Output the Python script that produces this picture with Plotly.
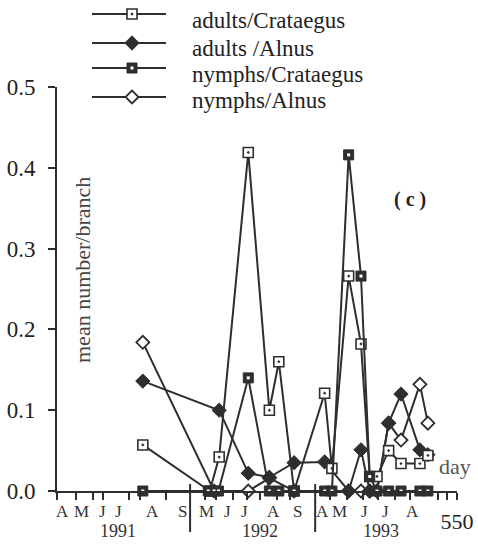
import plotly.graph_objects as go

W, H = 478, 545
INK = "#2e2e2e"
SERIF = "Liberation Serif"

# Sampling days (day 0 = start of the 1991 season) and mean number per branch
ad_crat_day = [118, 210, 223, 263, 292, 305, 326, 368, 378, 401, 418, 430, 440, 456, 473, 499, 510]
ad_crat_val = [0.057, 0.0, 0.042, 0.419, 0.10, 0.16, 0.0, 0.121, 0.028, 0.266, 0.182, 0.018, 0.018,
               0.05, 0.034, 0.034, 0.044]

ad_aln_day = [118, 223, 263, 292, 326, 368, 401, 418, 430, 440, 456, 473, 499, 510]
ad_aln_val = [0.136, 0.10, 0.022, 0.017, 0.035, 0.036, 0.0, 0.051, 0.0, 0.0, 0.084, 0.12, 0.051, 0.045]

ny_crat_day = [118, 208, 216, 222, 263, 292, 305, 326, 368, 378, 401, 418, 430, 440, 456, 473, 499, 510]
ny_crat_val = [0.0, 0.0, 0.0, 0.0, 0.14, 0.0, 0.0, 0.0, 0.0, 0.0, 0.416, 0.266, 0.018, 0.0,
               0.0, 0.0, 0.0, 0.0]

ny_aln_day = [118, 216, 263, 292, 326, 401, 418, 430, 440, 456, 473, 499, 510]
ny_aln_val = [0.184, 0.0, 0.0, 0.016, 0.0, 0.0, 0.0, 0.0, 0.0, 0.084, 0.063, 0.132, 0.084]

# Axis furniture
x_ticks = [0, 26, 49, 63, 99, 114, 150, 203, 219, 242, 261, 279, 302, 320,
           375, 399, 421, 441, 465, 486, 524, 536, 550]
y_ticks = [0.0, 0.1, 0.2, 0.3, 0.4, 0.5]
month_labels = ["A", "M", "J", "J", "A", "S", "M", "J", "J", "A", "S", "A", "M", "J", "J", "A"]
month_pos = [8, 34, 62, 84, 131, 172, 206, 235, 258, 297, 331, 365, 388, 423, 451, 489]
year_labels = ["1991", "1992", "1993"]
year_pos = [84, 279, 446]
year_breaks = [183, 355]

series = [
    dict(name="adults/Crataegus", x=ad_crat_day, y=ad_crat_val,
         marker=dict(symbol="square-dot", size=10, color="white", line=dict(color=INK, width=1.6))),
    dict(name="adults /Alnus", x=ad_aln_day, y=ad_aln_val,
         marker=dict(symbol="diamond", size=11, color=INK, line=dict(color=INK, width=1))),
    dict(name="nymphs/Crataegus", x=ny_crat_day, y=ny_crat_val,
         marker=dict(symbol="square", size=10, color=INK, line=dict(color=INK, width=1))),
    dict(name="nymphs/Alnus", x=ny_aln_day, y=ny_aln_val,
         marker=dict(symbol="diamond", size=10, color="white", line=dict(color=INK, width=1.8))),
]
draw_order = [3, 1, 0, 2]

fig = go.Figure()
for i in draw_order:
    s = series[i]
    fig.add_trace(go.Scatter(x=s["x"], y=s["y"], mode="lines+markers", name=s["name"],
                             line=dict(color=INK, width=2), marker=s["marker"],
                             cliponaxis=False, showlegend=False))
    if s["name"] == "nymphs/Crataegus":
        # white centre of the solid squares
        fig.add_trace(go.Scatter(x=s["x"], y=s["y"], mode="markers", hoverinfo="skip",
                                 marker=dict(symbol="square", size=3, color="white"),
                                 cliponaxis=False, showlegend=False))

# Key drawn in pixel space on an overlay axis
key_y = [14, 43, 68, 97]
key_text_y = [21, 48, 74, 100]
for s, ky in zip(series, key_y):
    fig.add_trace(go.Scatter(x=[92, 166], y=[ky, ky], mode="lines", xaxis="x2", yaxis="y2",
                             line=dict(color=INK, width=2), hoverinfo="skip", showlegend=False))
    fig.add_trace(go.Scatter(x=[132], y=[ky], mode="markers", xaxis="x2", yaxis="y2",
                             marker=s["marker"], hoverinfo="skip", showlegend=False))
    if s["name"] == "nymphs/Crataegus":
        fig.add_trace(go.Scatter(x=[132], y=[ky], mode="markers", xaxis="x2", yaxis="y2",
                                 marker=dict(symbol="square", size=3, color="white"),
                                 hoverinfo="skip", showlegend=False))

annotations = []
for s, ty in zip(series, key_text_y):
    annotations.append(dict(x=190 / W, y=1 - ty / H, xref="paper", yref="paper", text=s["name"],
                            xanchor="left", yanchor="middle", showarrow=False,
                            font=dict(family=SERIF, size=23, color="#222")))
for lab, pos in zip(month_labels, month_pos):
    annotations.append(dict(x=pos, y=1 - 511 / H, xref="x", yref="paper", text=lab,
                            xanchor="center", yanchor="middle", showarrow=False,
                            font=dict(family=SERIF, size=17, color="#333")))
for lab, pos in zip(year_labels, year_pos):
    annotations.append(dict(x=pos, y=1 - 531 / H, xref="x", yref="paper", text=lab,
                            xanchor="center", yanchor="middle", showarrow=False,
                            font=dict(family=SERIF, size=18, color="#333")))
annotations.append(dict(x=82 / W, y=1 - 270 / H, xref="paper", yref="paper",
                        text="mean number/branch", textangle=-90, showarrow=False,
                        xanchor="center", yanchor="middle",
                        font=dict(family=SERIF, size=22, color="#444")))
annotations.append(dict(x=455 / W, y=1 - 466 / H, xref="paper", yref="paper", text="day",
                        showarrow=False, xanchor="center", yanchor="middle",
                        font=dict(family=SERIF, size=22, color="#555")))
annotations.append(dict(x=410 / W, y=1 - 199 / H, xref="paper", yref="paper", text="<b>( c )</b>",
                        showarrow=False, xanchor="center", yanchor="middle",
                        font=dict(family=SERIF, size=20, color="#222")))

shapes = [dict(type="line", xref="x", yref="paper", x0=b, x1=b, y0=1 - 484 / H, y1=1 - 532 / H,
               line=dict(color=INK, width=2)) for b in year_breaks]

fig.update_layout(
    width=W, height=H, autosize=False,
    margin=dict(l=0, r=0, t=0, b=0, pad=0, autoexpand=False),
    paper_bgcolor="white", plot_bgcolor="rgba(0,0,0,0)",
    showlegend=False,
    annotations=annotations, shapes=shapes,
    xaxis=dict(domain=[57 / W, 457 / W], range=[0, 550], showline=True, linecolor=INK, linewidth=2,
               ticks="outside", ticklen=7, tickwidth=1.5, tickcolor=INK,
               tickvals=x_ticks, ticktext=[""] * (len(x_ticks) - 1) + ["550"],
               ticklabelstandoff=3, automargin=False,
               tickfont=dict(family=SERIF, size=22, color="#222"),
               showgrid=False, zeroline=False, fixedrange=True),
    yaxis=dict(domain=[1 - 491 / H, 1 - 87 / H], range=[0, 0.5], showline=True, linecolor=INK,
               linewidth=2, ticks="outside", ticklen=7, tickwidth=1.5, tickcolor=INK,
               tickvals=y_ticks, tickformat=".1f", ticklabelstandoff=8, automargin=False,
               tickfont=dict(family=SERIF, size=23, color="#222"),
               showgrid=False, zeroline=False, fixedrange=True),
    xaxis2=dict(domain=[0, 1], range=[0, W], anchor="y2", visible=False, fixedrange=True,
                automargin=False),
    yaxis2=dict(domain=[0, 1], range=[H, 0], anchor="x2", visible=False, fixedrange=True,
                automargin=False),
)

fig.write_html("out.html")
